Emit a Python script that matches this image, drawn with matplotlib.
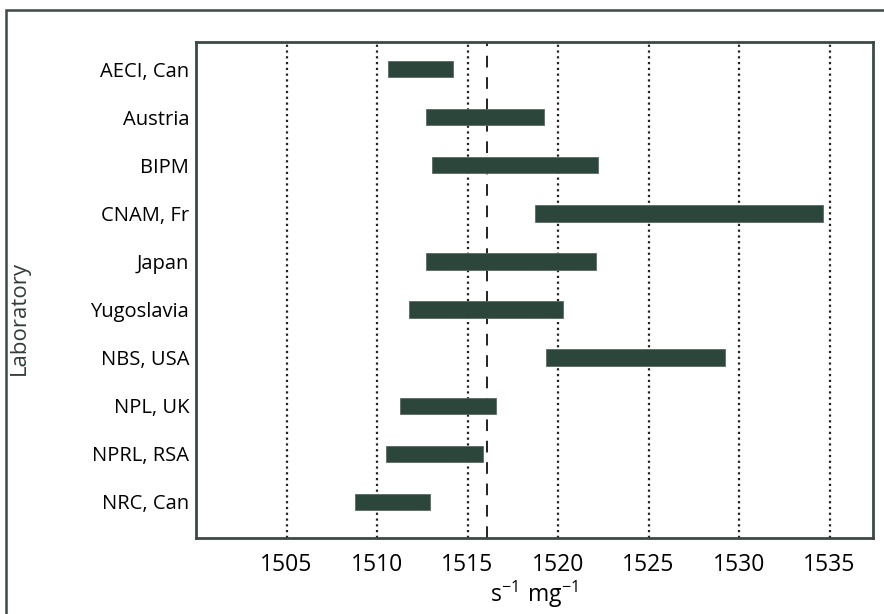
import numpy as np
import matplotlib.pyplot as plt
from matplotlib.patches import Rectangle

plt.rcParams['font.family'] = ['Open Sans', 'DejaVu Sans']

# laboratories, top to bottom
labs = ['AECI, Can', 'Austria', 'BIPM', 'CNAM, Fr', 'Japan', 'Yugoslavia',
        'NBS, USA', 'NPL, UK', 'NPRL, RSA', 'NRC, Can']
lo = [1510.6, 1512.7, 1513.05, 1518.75, 1512.7, 1511.75, 1519.35, 1511.25, 1510.5, 1508.8]
hi = [1514.2, 1519.2, 1522.2, 1534.65, 1522.1, 1520.25, 1529.25, 1516.6, 1515.85, 1512.9]
ref_value = 1516.1
xticks = [1505, 1510, 1515, 1520, 1525, 1530, 1535]

bar_col = '#2d463c'
edge_col = '#3b4a44'

fig = plt.figure(figsize=(8.84, 6.14), dpi=100)
ax = fig.add_axes([196 / 884, 76 / 614, 677 / 884, 496.3 / 614])

# outer frame round the figure
fig.patches.append(Rectangle((6 / 884, -0.05), 1.0, 1 - 10 / 614 + 0.05,
                             transform=fig.transFigure, fill=False,
                             edgecolor=edge_col, linewidth=1.8, zorder=0))

y = np.arange(len(labs))[::-1]
lo = np.array(lo)
hi = np.array(hi)

for xv in xticks:
    ax.axvline(xv, color='#222222', linestyle=(0, (1, 1.6)), linewidth=1.6, zorder=1)
ax.axvline(ref_value, color='#222222', linestyle=(0, (6, 5)), linewidth=1.4, zorder=1)

ax.barh(y, hi - lo, left=lo, height=0.34, color=bar_col,
        edgecolor='#5a6b63', linewidth=0.6, zorder=2)

ax.set_xlim(1500, 1537.4)
ax.set_ylim(-0.75, 9.57)
ax.set_xticks(xticks)
ax.set_yticks(y)
ax.set_yticklabels(labs)
ax.tick_params(axis='x', length=0, labelsize=16.5, pad=11)
ax.tick_params(axis='y', length=0, labelsize=14.5, pad=5)

for s in ax.spines.values():
    s.set_color(edge_col)
    s.set_linewidth(2)

ax.set_xlabel(r'$\mathregular{s^{-1}\ mg^{-1}}$', fontsize=16.5, labelpad=1)
ax.set_ylabel('Laboratory', fontsize=16, color='#333d38')
ax.yaxis.set_label_coords(-0.245, 0.443)

fig.savefig('out.png', dpi=100)
